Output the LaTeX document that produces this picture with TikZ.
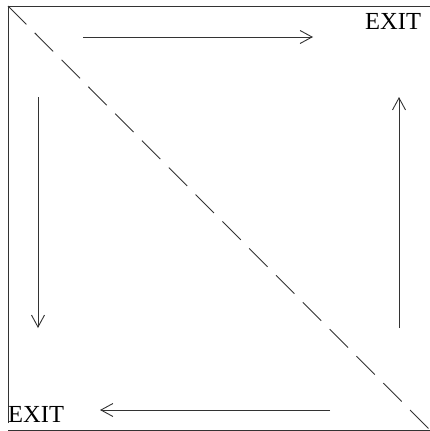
\documentclass[tikz,border=0pt]{standalone}
\usepackage{fontspec}
\setmainfont{Liberation Serif}
\usetikzlibrary{arrows.meta}
\begin{document}
\begin{tikzpicture}[x=1pt,y=-1pt,
  edge/.style={draw=black!80,line width=0.9pt},
  flow/.style={edge,-{Straight Barb[length=12pt,width=13pt,line width=0.9pt]}},
  label/.style={inner sep=0pt,font=\fontsize{24.5}{24.5}\selectfont}]
\useasboundingbox[fill=white] (0,0) rectangle (430,431);
% frame corners
\coordinate (tl) at (8,6);
\coordinate (tr) at (430,6);
\coordinate (bl) at (8,423);
\coordinate (blb) at (8,430);
\coordinate (brb) at (430,430);
\draw[edge] (bl) -- (tl) -- (tr);
\draw[edge] (blb) -- (brb);
% diagonal
\draw[edge,dash pattern=on 26pt off 12pt] (tl) -- (brb);
% arrows
\coordinate (a1) at (83,37);  \coordinate (a2) at (313,37);
\coordinate (b1) at (399,328); \coordinate (b2) at (399,97);
\coordinate (c1) at (330,410); \coordinate (c2) at (100,410);
\coordinate (d1) at (38,97);  \coordinate (d2) at (38,328);
\draw[flow] (a1) -- (a2);
\draw[flow] (b1) -- (b2);
\draw[flow] (c1) -- (c2);
\draw[flow] (d1) -- (d2);
% labels
\node[label,anchor=base west] (exit1) at (365,29.5) {EXIT};
\node[label,anchor=base west] (exit2) at (8,422.5) {EXIT};
\end{tikzpicture}
\end{document}
